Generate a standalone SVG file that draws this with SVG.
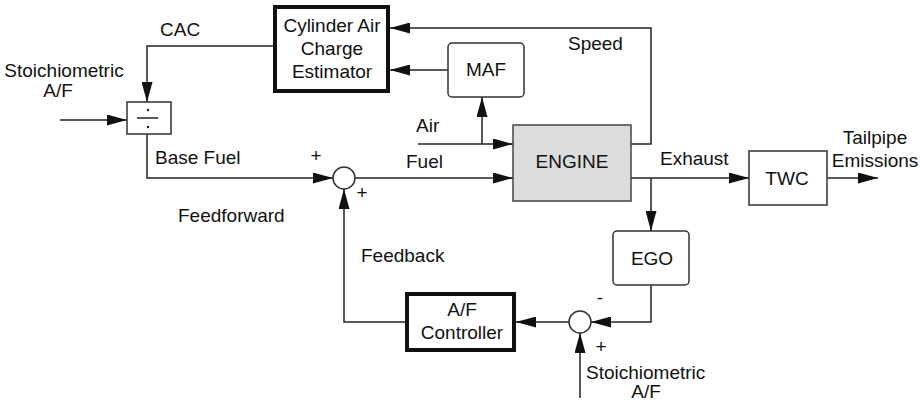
<svg xmlns="http://www.w3.org/2000/svg" width="920" height="402" viewBox="0 0 920 402">
<style>
text{font-family:"Liberation Sans",Arial,sans-serif;font-size:19px;fill:#111}
.m{text-anchor:middle}
.ln{fill:none;stroke:#222;stroke-width:1.5}
.thin{fill:#fff;stroke:#333;stroke-width:1.5}
.thick{fill:#fff;stroke:#111;stroke-width:4}
</style>
<defs>
<marker id="ah" markerUnits="userSpaceOnUse" markerWidth="20" markerHeight="11" refX="20" refY="5.5" orient="auto">
<path d="M0,0 L20,5.5 L0,11 z" fill="#111"/>
</marker>
</defs>
<rect width="920" height="402" fill="#fff"/>
<g id="connectors" class="ln" marker-end="url(#ah)">
<polyline points="273,46 147,46 147,102"/>
<polyline points="60,120 127,120"/>
<polyline points="147,134 147,178 333,178"/>
<polyline points="355,178 513,178"/>
<polyline points="418,144 513,144"/>
<polyline points="482,144 482,97"/>
<polyline points="448,70 390,70"/>
<polyline points="631,144 651,144 651,28 390,28"/>
<polyline points="631,178 749,178"/>
<polyline points="827,178 878,178"/>
<polyline points="651,178 651,231"/>
<polyline points="651,285 651,322 591,322"/>
<polyline points="580,398 580,333"/>
<polyline points="569,322 516,322"/>
<polyline points="405,322 344,322 344,189"/>
</g>
<g id="cace">
<rect class="thick" x="275" y="7" width="113" height="84"/>
<text class="m" x="332" y="32">Cylinder Air</text>
<text class="m" x="332" y="55">Charge</text>
<text class="m" x="332" y="78">Estimator</text>
</g>
<g id="divide">
<rect class="thin" x="127" y="102" width="44" height="32"/>
<line x1="137" y1="118" x2="158" y2="118" stroke="#222" stroke-width="1.5"/>
<circle cx="148" cy="110" r="1.2" fill="#222"/>
<circle cx="148" cy="127" r="1.2" fill="#222"/>
</g>
<g id="maf">
<rect class="thin" x="448" y="43" width="76" height="54" rx="4"/>
<text class="m" x="486" y="76">MAF</text>
</g>
<g id="engine">
<rect x="513" y="125" width="118" height="76" fill="#dcdcdc" stroke="#444" stroke-width="1.5"/>
<text class="m" x="572" y="168">ENGINE</text>
</g>
<g id="twc">
<rect class="thin" x="749" y="151" width="78" height="54"/>
<text class="m" x="787" y="185">TWC</text>
</g>
<g id="ego">
<rect class="thin" x="613" y="231" width="76" height="54" rx="4"/>
<text class="m" x="652" y="265">EGO</text>
</g>
<g id="sum1">
<circle class="thin" cx="344" cy="178" r="11"/>
</g>
<g id="sum2">
<circle class="thin" cx="580" cy="322" r="11"/>
</g>
<g id="controller">
<rect class="thick" x="407" y="294" width="107" height="56"/>
<text class="m" x="462" y="316">A/F</text>
<text class="m" x="462" y="339">Controller</text>
</g>
<g id="labels">
<text x="160" y="36">CAC</text>
<text class="m" x="64" y="77">Stoichiometric</text>
<text class="m" x="58" y="97">A/F</text>
<text x="155" y="164">Base Fuel</text>
<text class="m" x="316" y="162">+</text>
<text class="m" x="362" y="199">+</text>
<text x="406" y="168">Fuel</text>
<text x="416" y="132">Air</text>
<text x="568" y="50">Speed</text>
<text x="660" y="165">Exhaust</text>
<text class="m" x="875" y="144">Tailpipe</text>
<text class="m" x="875" y="167">Emissions</text>
<text x="178" y="222">Feedforward</text>
<text x="361" y="262">Feedback</text>
<text class="m" x="600" y="304">-</text>
<text class="m" x="601" y="353">+</text>
<text x="586" y="379">Stoichiometric</text>
<text class="m" x="646" y="398">A/F</text>
</g>
</svg>
